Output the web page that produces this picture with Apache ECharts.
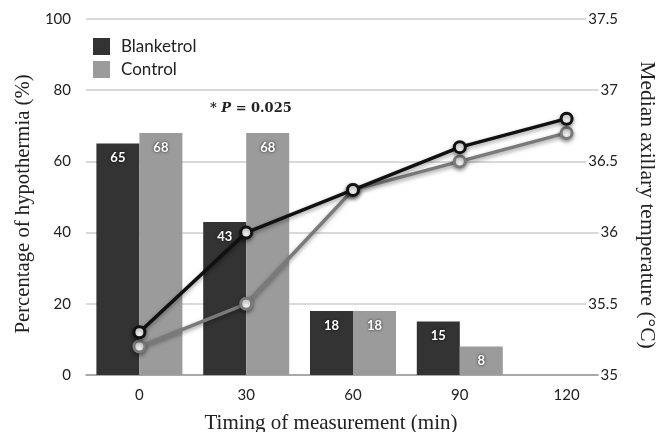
<!DOCTYPE html>
<html>
<head>
<meta charset="utf-8">
<script src="https://cdn.jsdelivr.net/npm/echarts@6/dist/echarts.min.js"></script>
<style>html,body{margin:0;padding:0;background:#fff;}#c{width:669px;height:432px;}</style>
</head>
<body>
<div id="c"></div>
<script>
const categories = ['0', '30', '60', '90', '120'];
const blanketrolPct = [65, 43, 18, 15, 0];
const controlPct = [68, 68, 18, 8, 0];
const blanketrolTemp = [35.3, 36.0, 36.3, 36.6, 36.8];
const controlTemp = [35.2, 35.5, 36.3, 36.5, 36.7];
const leftTicks = { min: 0, max: 100, interval: 20 };
const rightTicks = { min: 35, max: 37.5, interval: 0.5 };

const sans = 'Lato';
const serif = 'Liberation Serif';
const chart = echarts.init(document.getElementById('c'));

const barLabel = {
  show: true, position: 'insideTop', distance: 8, color: '#fff', fontFamily: sans,
  fontSize: 13, fontWeight: 'bold', textShadowColor: 'rgba(0,0,0,0.8)', textShadowBlur: 3,
  formatter: p => p.value ? String(p.value) : ''
};

chart.setOption({
  animation: false,
  backgroundColor: '#fff',
  grid: { left: 86, right: 49, top: 19, bottom: 57, containLabel: false, outerBoundsMode: 'none' },
  legend: {
    data: ['Blanketrol', 'Control'], orient: 'vertical', left: 88, top: 33,
    itemWidth: 17, itemHeight: 17, itemGap: 6, icon: 'rect',
    textStyle: { fontFamily: sans, fontSize: 17, color: '#222', padding: [0, 0, 0, 6] }
  },
  xAxis: {
    type: 'category', data: categories, boundaryGap: true,
    name: 'Timing of measurement (min)', nameLocation: 'middle', nameGap: 38,
    nameTextStyle: { fontFamily: serif, fontSize: 21, color: '#222', padding: [0, 44, 0, 0] },
    axisLine: { lineStyle: { color: '#999', width: 1.5 } },
    axisTick: { show: false },
    axisLabel: { fontFamily: sans, fontSize: 15, color: '#222', margin: 13 }
  },
  yAxis: [
    {
      type: 'value', min: leftTicks.min, max: leftTicks.max, interval: leftTicks.interval,
      name: 'Percentage of hypothermia (%)', nameLocation: 'middle', nameGap: 49,
      nameTextStyle: { fontFamily: serif, fontSize: 20.7, color: '#222', padding: [0, 14, 0, 0] },
      axisLine: { show: false }, axisTick: { show: false },
      axisLabel: { fontFamily: sans, fontSize: 15, color: '#222', margin: 15 },
      splitLine: { lineStyle: { color: '#ccc', width: 1.5 } }
    },
    {
      type: 'value', position: 'right', min: rightTicks.min, max: rightTicks.max, interval: rightTicks.interval,
      name: 'Median axillary temperature (°C)', nameLocation: 'middle', nameGap: 16, nameRotate: -90,
      nameTextStyle: { fontFamily: serif, fontSize: 21.5, color: '#222', padding: [0, 0, 0, 16] },
      axisLine: { show: false }, axisTick: { show: false },
      axisLabel: { inside: true, margin: 0, fontFamily: sans, fontSize: 15, color: '#222',
        backgroundColor: '#fff', padding: [0, 2, 0, 2] },
      splitLine: { show: false }
    }
  ],
  series: [
    { name: 'Blanketrol', type: 'bar', data: blanketrolPct, barWidth: 43, barGap: '0%',
      itemStyle: { color: '#333333' }, label: barLabel },
    { name: 'Control', type: 'bar', data: controlPct, barWidth: 43, barGap: '0%',
      itemStyle: { color: '#9b9b9b' }, label: barLabel },
    { name: 'Control temperature', type: 'line', yAxisIndex: 1, data: controlTemp, z: 5,
      symbol: 'circle', symbolSize: 11,
      lineStyle: { color: '#7a7a7a', width: 3.5, shadowColor: 'rgba(0,0,0,0.4)', shadowBlur: 4, shadowOffsetY: 2 },
      itemStyle: { color: '#fff', borderColor: '#7a7a7a', borderWidth: 3, shadowColor: 'rgba(0,0,0,0.4)', shadowBlur: 4, shadowOffsetY: 2 } },
    { name: 'Blanketrol temperature', type: 'line', yAxisIndex: 1, data: blanketrolTemp, z: 6,
      symbol: 'circle', symbolSize: 11,
      lineStyle: { color: '#111', width: 3.5, shadowColor: 'rgba(0,0,0,0.4)', shadowBlur: 4, shadowOffsetY: 2 },
      itemStyle: { color: '#fff', borderColor: '#111', borderWidth: 3, shadowColor: 'rgba(0,0,0,0.4)', shadowBlur: 4, shadowOffsetY: 2 } }
  ],
  graphic: [{
    type: 'text', left: 210, top: 102,
    style: {
      text: '{a|* }{p|P}{a| = 0.025}',
      rich: {
        a: { fontFamily: 'DejaVu Serif', fontSize: 13, fontWeight: 'bold', fill: '#222' },
        p: { fontFamily: 'DejaVu Serif', fontSize: 13, fontWeight: 'bold', fontStyle: 'italic', fill: '#222' }
      }
    }
  }]
});
</script>
</body>
</html>
